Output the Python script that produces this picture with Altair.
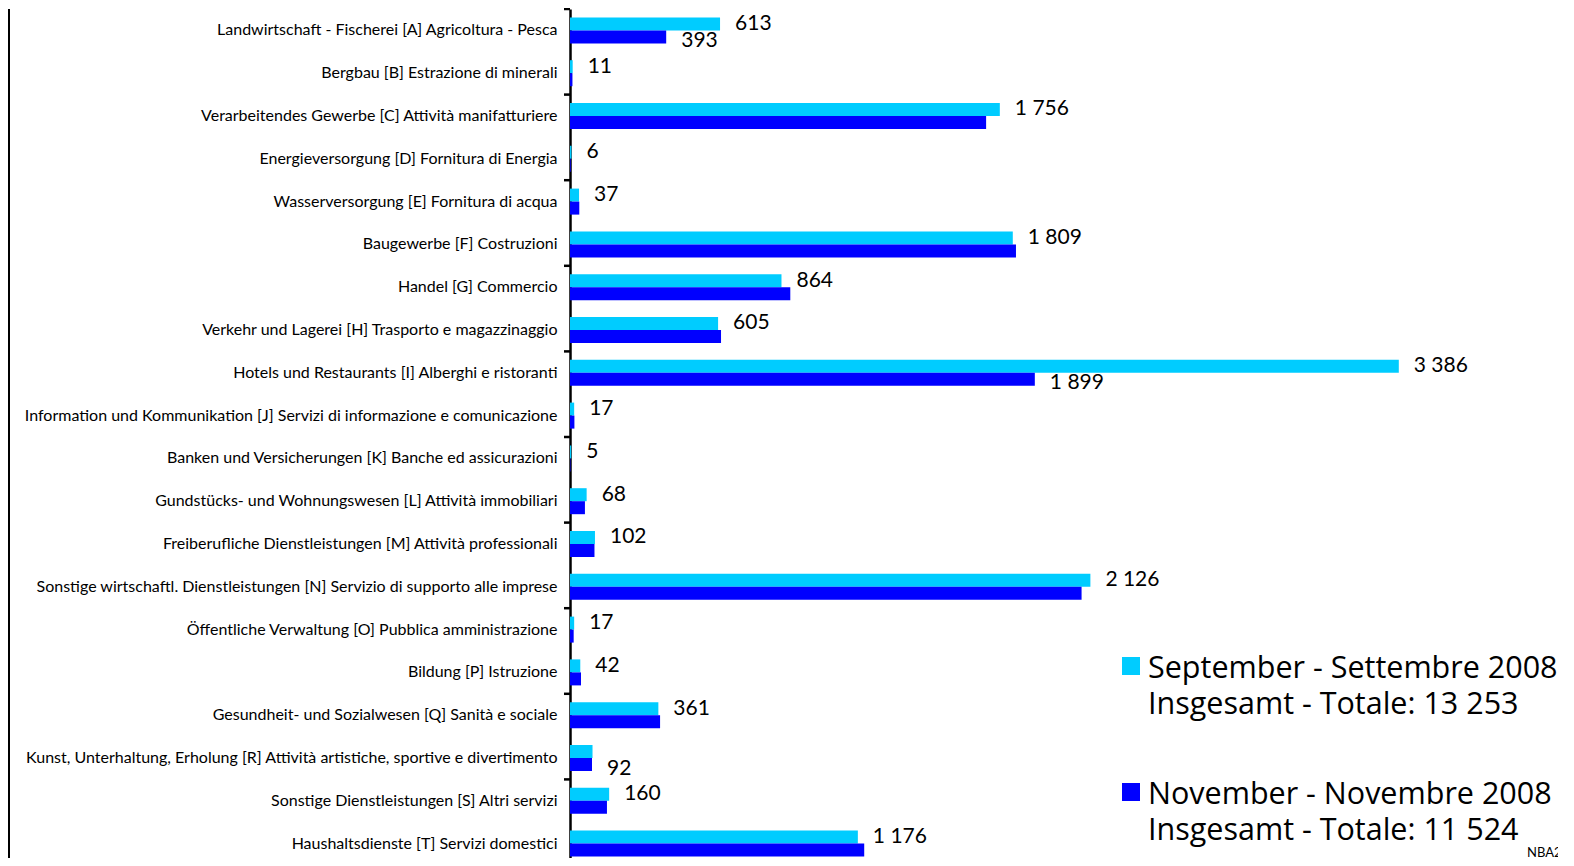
import altair as alt
import pandas as pd

categories = [
    "Landwirtschaft - Fischerei [A] Agricoltura - Pesca",
    "Bergbau [B] Estrazione di minerali",
    "Verarbeitendes Gewerbe [C] Attività manifatturiere",
    "Energieversorgung [D] Fornitura di Energia",
    "Wasserversorgung [E] Fornitura di acqua",
    "Baugewerbe [F] Costruzioni",
    "Handel [G] Commercio",
    "Verkehr und Lagerei [H] Trasporto e magazzinaggio ",
    "Hotels und Restaurants [I] Alberghi e ristoranti",
    "Information und Kommunikation [J] Servizi di informazione e comunicazione",
    "Banken und Versicherungen [K] Banche ed assicurazioni",
    "Gundstücks- und Wohnungswesen [L] Attività immobiliari",
    "Freiberufliche Dienstleistungen [M] Attività professionali",
    "Sonstige wirtschaftl. Dienstleistungen [N] Servizio di supporto alle imprese",
    "Öffentliche Verwaltung [O] Pubblica amministrazione",
    "Bildung [P] Istruzione",
    "Gesundheit- und Sozialwesen [Q] Sanità e sociale",
    "Kunst, Unterhaltung, Erholung [R] Attività artistiche, sportive e divertimento",
    "Sonstige Dienstleistungen [S] Altri servizi",
    "Haushaltsdienste [T] Servizi domestici",
]

september = [613, 11, 1756, 6, 37, 1809, 864, 605, 3386, 17, 5, 68, 102, 2126, 17, 42, 361, 92, 160, 1176]
november = [393, 10, 1700, 3, 38, 1822, 900, 617, 1899, 18, 2, 61, 100, 2090, 15, 45, 368, 90, 151, 1202]

series_names = ["September - Settembre 2008", "November - Novembre 2008"]
series_totals = [13253, 11524]
total_prefix = "Insgesamt - Totale: "
colors = ["#00ccff", "#0000ff"]

# which series row each September label sits on (R's label sits lower)
sep_label_row = ["sep"] * 20
sep_label_row[17] = "nov"
# categories that also show the November value
nov_labelled = [0, 8]

source_note = "NBA2008"


def fmt(v):
    return f"{v:,}".replace(",", " ")


rows = []
for i, c in enumerate(categories):
    rows.append(dict(cat=c, series=series_names[0], value=september[i]))
    rows.append(dict(cat=c, series=series_names[1], value=november[i]))
df = pd.DataFrame(rows)

lab_rows = []
for i, c in enumerate(categories):
    if sep_label_row[i] == "sep":
        lab_rows.append(dict(cat=c, series=series_names[0], value=september[i], label=fmt(september[i]), row="sep"))
    else:
        lab_rows.append(dict(cat=c, series=series_names[1], value=november[i], label=fmt(september[i]), row="nov"))
for i in nov_labelled:
    lab_rows.append(dict(cat=categories[i], series=series_names[1], value=november[i], label=fmt(november[i]), row="nov"))
df_lab = pd.DataFrame(lab_rows)

df_ticks = pd.DataFrame({"cat": categories[::2]})

FONT = "Lato"
LEG_FONT = "Open Sans"

W, H = 960, 849
LEFT = 562
RIGHT = 28

y_scale = alt.Scale(domain=categories, range=[0, 856], paddingInner=0, paddingOuter=0)
y_axis = alt.Axis(
    title=None,
    ticks=False,
    domainColor="black",
    domainWidth=2.5,
    labelFontSize=16,
    labelFont=FONT,
    labelColor="black",
    labelLimit=0,
    labelPadding=13,
)
y_enc = alt.Y("cat:N", scale=y_scale, axis=y_axis)
yoff = alt.YOffset("series:N", scale=alt.Scale(domain=series_names, paddingInner=0, paddingOuter=0.646))
x_enc = alt.X("value:Q", scale=alt.Scale(domain=[0, 3922]), axis=None)

bars = alt.Chart(df).mark_bar(strokeWidth=0).encode(
    x=x_enc,
    y=y_enc,
    yOffset=yoff,
    color=alt.Color("series:N", scale=alt.Scale(domain=series_names, range=colors), legend=None),
)

text_sep = alt.Chart(df_lab).transform_filter(alt.datum.row == "sep").mark_text(
    align="left", baseline="middle", dx=15, fontSize=21, font=FONT, color="black"
).encode(x=x_enc, y=y_enc, yOffset=yoff, text="label:N")

text_nov = alt.Chart(df_lab).transform_filter(alt.datum.row == "nov").mark_text(
    align="left", baseline="middle", dx=15, dy=4, fontSize=21, font=FONT, color="black"
).encode(x=x_enc, y=y_enc, yOffset=yoff, text="label:N")

ticks = alt.Chart(df_ticks).mark_rule(color="black", strokeWidth=2.5).encode(
    y=alt.Y("cat:N", scale=y_scale, bandPosition=0, axis=y_axis),
    x=alt.value(-6),
    x2=alt.value(0),
)

border = alt.Chart(pd.DataFrame({"k": [0]})).mark_rule(color="black", strokeWidth=3).encode(
    x=alt.value(-LEFT + 0.5), y=alt.value(0), y2=alt.value(H)
)

# manual legend: square + two-line text per series
legend_layers = []
legend_top = [657, 783]
for i, name in enumerate(series_names):
    ldf = pd.DataFrame({"series": [name], "txt": [name + "\n" + total_prefix + fmt(series_totals[i])]})
    legend_layers.append(
        alt.Chart(ldf).mark_square(size=324, opacity=1).encode(
            x=alt.value(561), y=alt.value(legend_top[i]),
            color=alt.Color("series:N", scale=alt.Scale(domain=series_names, range=colors), legend=None),
        )
    )
    legend_layers.append(
        alt.Chart(ldf).mark_text(
            align="left", baseline="alphabetic", fontSize=30.5, font=LEG_FONT, color="black",
            lineBreak="\n", lineHeight=36,
        ).encode(x=alt.value(578), y=alt.value(legend_top[i] + 12), text="txt:N")
    )

note = alt.Chart(pd.DataFrame({"t": [source_note]})).mark_text(
    align="left", baseline="alphabetic", fontSize=13, font=FONT, color="black"
).encode(x=alt.value(957), y=alt.value(H - 1), text="t:N")

chart = alt.layer(border, bars, ticks, text_sep, text_nov, *legend_layers, note).properties(
    width=W, height=H,
    autosize=alt.AutoSizeParams(type="none"),
    padding={"left": LEFT, "top": 1, "right": RIGHT, "bottom": 0},
).configure_view(stroke=None)

chart.save("out.html", embed_options={"renderer": "svg", "actions": False})
